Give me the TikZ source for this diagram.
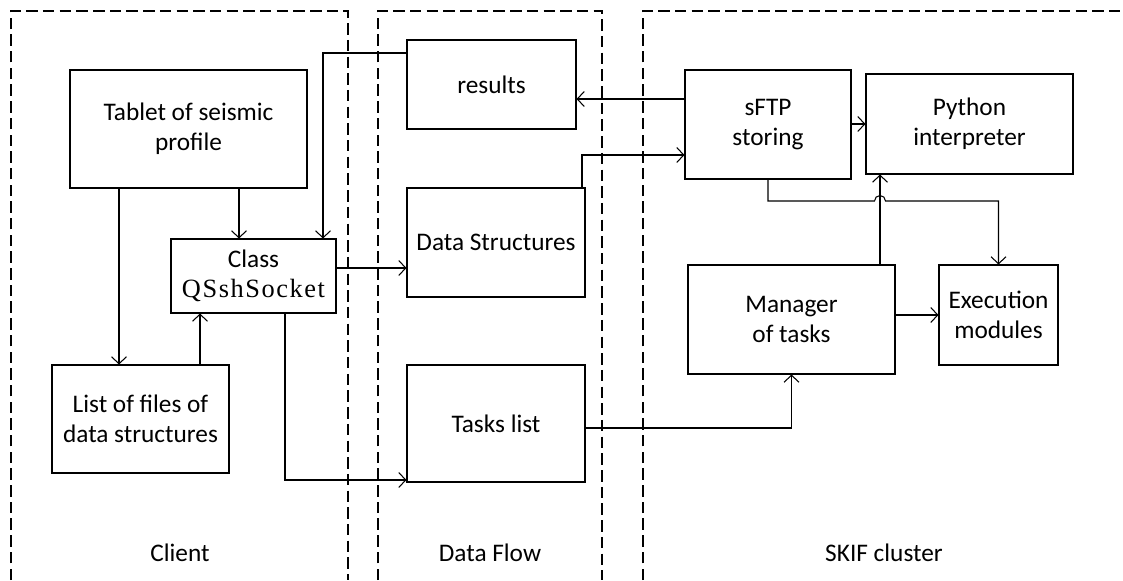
\documentclass[tikz,border=0pt]{standalone}
\usepackage{fontspec}
\setmainfont{Carlito}
\newfontfamily\classfont[LetterSpace=6]{Liberation Serif}
\usetikzlibrary{arrows.meta}
\tikzset{
  box/.style={draw, line width=0.6pt, inner sep=0pt, align=center, font=\fontsize{14.4}{17.2}\selectfont},
  flow/.style={line width=0.6pt, -{Straight Barb[length=1.4mm, width=3mm]}},
  zone/.style={line width=0.6pt, dash pattern=on 6.5pt off 3pt},
  zonelabel/.style={font=\fontsize{14.4}{17.2}\selectfont},
}

\begin{document}
\begin{tikzpicture}
    \useasboundingbox (0,0) rectangle (22.46,11.6);

    % Zones
    \draw[zone] (0.22,0) -- (0.22,11.38) -- (6.96,11.38) -- (6.96,0);
    \draw[zone] (7.56,0) -- (7.56,11.38) -- (12.04,11.38) -- (12.04,0);
    \draw[zone] (12.86,0) -- (12.86,11.38) -- (22.6,11.38);
    \node[zonelabel] (client) at (3.60,0.54) {Client};
    \node[zonelabel] (flowlbl) at (9.80,0.54) {Data Flow};
    \node[zonelabel] (skif) at (17.68,0.54) {SKIF cluster};

    % Client
    \node[box, minimum width=4.74cm, minimum height=2.36cm] (tablet) at (3.77,9.02) {Tablet of seismic\\profile};
    \node[box, minimum width=3.30cm, minimum height=1.48cm] (sock) at (5.07,6.08) {Class\\[0pt]{\classfont\fontsize{15}{17}\selectfont QSshSocket}};
    \node[box, minimum width=3.54cm, minimum height=2.16cm] (files) at (2.81,3.22) {List of files of\\data structures};

    % Data flow
    \node[box, minimum width=3.38cm, minimum height=1.78cm] (results) at (9.83,9.91) {results};
    \node[box, minimum width=3.56cm, minimum height=2.18cm] (dstruct) at (9.92,6.75) {Data Structures};
    \node[box, minimum width=3.56cm, minimum height=2.34cm] (tasks) at (9.92,3.13) {Tasks list};

    % SKIF cluster
    \node[box, minimum width=3.32cm, minimum height=2.18cm] (sftp) at (15.36,9.11) {sFTP\\storing};
    \node[box, minimum width=4.14cm, minimum height=2.00cm] (python) at (19.39,9.12) {Python\\interpreter};
    \node[box, minimum width=4.14cm, minimum height=2.18cm] (manager) at (15.83,5.21) {Manager\\of tasks};
    \node[box, minimum width=2.38cm, minimum height=2.00cm] (execm) at (19.97,5.30) {Execution\\modules};

    % Bend points
    \coordinate (c1) at (2.38,0);
    \coordinate (c2) at (4.78,0);
    \coordinate (c3) at (4.00,0);
    \coordinate (r1) at (6.46,10.54);
    \coordinate (k1) at (0,6.24);
    \coordinate (s1) at (5.70,2.00);
    \coordinate (k2) at (0,9.62);
    \coordinate (d1) at (11.64,8.50);
    \coordinate (f1) at (15.36,7.58);
    \coordinate (hop) at (17.49,7.58);
    \coordinate (m1) at (17.60,0);
    \coordinate (t1) at (0,3.04);

    % Client links
    \draw[flow] (tablet.south -| c1) -- (files.north -| c1);
    \draw[flow] (tablet.south -| c2) -- (sock.north -| c2);
    \draw[flow] (files.north -| c3) -- (sock.south -| c3);

    % Links across zones
    \draw[flow] (results.west |- r1) -- (r1) -- (sock.north -| r1);
    \draw[flow] (sock.east |- k1) -- (dstruct.west |- k1);
    \draw[flow] (sock.south -| s1) -- (s1) -- (tasks.west |- s1);
    \draw[flow] (sftp.west |- k2) -- (results.east |- k2);
    \draw[flow] (dstruct.north -| d1) -- (d1) -- (sftp.west |- d1);
    \draw[flow] (tasks.east |- t1) -| (manager.south);

    % Cluster links
    \draw[flow] (sftp.east |- python.west) -- (python.west);
    \draw[flow] (manager.north -| m1) -- (python.south -| m1);
    \draw[flow] (manager.east |- execm.west) -- (execm.west);
    \draw[flow] (sftp.south) -- (f1) -- (hop) arc[start angle=180, end angle=0, radius=0.11cm] -- (execm.north |- hop) -- (execm.north);

\end{tikzpicture}
\end{document}
